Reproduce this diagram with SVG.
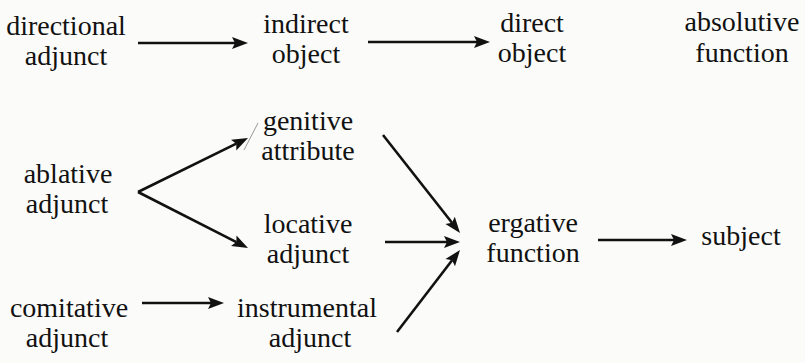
<svg xmlns="http://www.w3.org/2000/svg" width="805" height="363" viewBox="0 0 805 363">
<style>
text{font-size:28px;fill:#111;text-anchor:middle}
.c{stroke:#111;stroke-width:2.6;fill:none}
.h{fill:#111;stroke:none}
</style>
<rect width="805" height="363" fill="#fbfbf9"/>
<g id="directional-adjunct"><text font-family="Liberation Serif, DejaVu Serif, serif" x="66" y="35">directional</text><text font-family="Liberation Serif, DejaVu Serif, serif" x="66" y="65">adjunct</text></g>
<g id="indirect-object"><text font-family="Liberation Serif, DejaVu Serif, serif" x="306" y="33">indirect</text><text font-family="Liberation Serif, DejaVu Serif, serif" x="306" y="63">object</text></g>
<g id="direct-object"><text font-family="Liberation Serif, DejaVu Serif, serif" x="532" y="32">direct</text><text font-family="Liberation Serif, DejaVu Serif, serif" x="532" y="62">object</text></g>
<g id="absolutive-function"><text font-family="Liberation Serif, DejaVu Serif, serif" x="742" y="31">absolutive</text><text font-family="Liberation Serif, DejaVu Serif, serif" x="742" y="62">function</text></g>
<g id="genitive-attribute"><text font-family="Liberation Serif, DejaVu Serif, serif" x="308" y="130">genitive</text><text font-family="Liberation Serif, DejaVu Serif, serif" x="308" y="160">attribute</text></g>
<g id="ablative-adjunct"><text font-family="Liberation Serif, DejaVu Serif, serif" x="68" y="183">ablative</text><text font-family="Liberation Serif, DejaVu Serif, serif" x="67" y="213">adjunct</text></g>
<g id="locative-adjunct"><text font-family="Liberation Serif, DejaVu Serif, serif" x="308" y="233">locative</text><text font-family="Liberation Serif, DejaVu Serif, serif" x="308" y="263">adjunct</text></g>
<g id="ergative-function"><text font-family="Liberation Serif, DejaVu Serif, serif" x="533" y="232">ergative</text><text font-family="Liberation Serif, DejaVu Serif, serif" x="533" y="262">function</text></g>
<g id="subject"><text font-family="Liberation Serif, DejaVu Serif, serif" x="741" y="245">subject</text></g>
<g id="comitative-adjunct"><text font-family="Liberation Serif, DejaVu Serif, serif" x="69" y="317">comitative</text><text font-family="Liberation Serif, DejaVu Serif, serif" x="67" y="347">adjunct</text></g>
<g id="instrumental-adjunct"><text font-family="Liberation Serif, DejaVu Serif, serif" x="307" y="317">instrumental</text><text font-family="Liberation Serif, DejaVu Serif, serif" x="310" y="347">adjunct</text></g>
<g id="connectors">
<line class="c" x1="138" y1="43" x2="236" y2="43"/>
<polygon class="h" points="248,43 232,37 235,43 232,49"/>
<line class="c" x1="368" y1="42" x2="478" y2="42"/>
<polygon class="h" points="490,42 474,36 477,42 474,48"/>
<line class="c" x1="138" y1="192" x2="236.3" y2="143.7"/>
<polygon class="h" points="248,138 236.3,150.5 236.3,143.7 231,139.7"/>
<line class="c" x1="138" y1="192" x2="236.4" y2="242.1"/>
<polygon class="h" points="248,248 231,246.1 236.4,242.1 236.5,235.4"/>
<line class="c" x1="383" y1="135" x2="452" y2="222.8"/>
<polygon class="h" points="460,233 445.4,224.1 452,222.8 454.8,216.7"/>
<line class="c" x1="385" y1="242" x2="448" y2="242"/>
<polygon class="h" points="460,242 444,236 447,242 444,248"/>
<line class="c" x1="397" y1="332" x2="452.1" y2="260.3"/>
<polygon class="h" points="460,250 455,266.3 452.1,260.3 445.5,259"/>
<line class="c" x1="598" y1="240" x2="675" y2="240"/>
<polygon class="h" points="687,240 671,234 674,240 671,246"/>
<line class="c" x1="142" y1="303" x2="212" y2="303"/>
<polygon class="h" points="224,303 208,297 211,303 208,309"/>
</g>
<line x1="258" y1="123" x2="244" y2="150" stroke="#999" stroke-width="1"/>
</svg>
